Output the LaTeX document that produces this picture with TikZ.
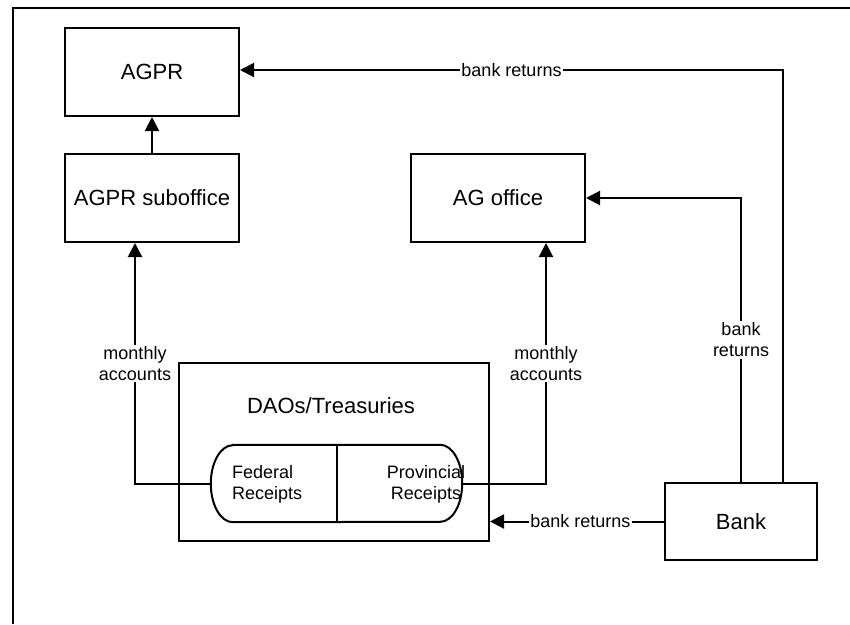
\documentclass[tikz,border=0pt]{standalone}
\usepackage{fontspec}
\setmainfont{Liberation Sans}
\usetikzlibrary{arrows.meta,positioning,calc}
\colorlet{lineCol}{black}
\tikzset{
boxstyle/.style={rectangle, draw=lineCol, line width=2pt, inner sep=0pt, minimum width=174pt, minimum height=88pt, font=\fontsize{22}{26}\selectfont},
textstyle/.style={inner sep=0pt, font=\fontsize{22}{26}\selectfont},
smallstyle/.style={inner sep=0pt, font=\fontsize{18}{21}\selectfont},
labelstyle/.style={fill=white, inner sep=1.5pt, align=center, font=\fontsize{18}{21}\selectfont},
linestyle/.style={draw=lineCol, line width=2pt},
flowstyle/.style={linestyle, -{Triangle[length=14pt,width=14pt]}}
}
\newcommand{\pill}[2]{
  \draw [linestyle, fill=white] ($(#1.north west)+(#2,0)$) -- ($(#1.north east)+(-#2,0)$)
    arc [start angle=-90, end angle=90, x radius=#2, y radius=38.5]
    -- ($(#1.south west)+(#2,0)$)
    arc [start angle=90, end angle=270, x radius=#2, y radius=38.5] -- cycle;
  \draw [linestyle] (#1.north) -- (#1.south);
}

\begin{document}
\begin{tikzpicture}[x=1pt,y=-1pt]

\useasboundingbox (0,0) rectangle (850,624);
\draw [linestyle] (13,624) -- (13,7.5) -- (850,7.5);

\node [boxstyle] (agpr) at (152,72) {AGPR};
\node [boxstyle] (agprsub) at (152,198) {AGPR suboffice};
\node [boxstyle] (agoffice) at (498,198) {AG office};
\node [boxstyle, minimum width=310pt, minimum height=178pt] (daos) at (334,452) {};
\node [textstyle] (daostitle) at (331,406) {DAOs/Treasuries};
\node [boxstyle, minimum width=152pt, minimum height=77pt] (bank) at (741,521.5) {Bank};

\node [inner sep=0pt, minimum width=251pt, minimum height=77pt] (receipts) at (336.5,483.5) {};
\pill{receipts}{22}
\node [smallstyle, align=left, anchor=west] (federal) at (232,484) {Federal\\Receipts};
\node [smallstyle, align=center] (provincial) at (426,484) {Provincial\\Receipts};

\draw [flowstyle] (agprsub) -- (agpr);
\draw [flowstyle] (receipts.west) -| node [labelstyle, pos=0.75] (fedlabel) {monthly\\accounts} ([xshift=-17pt]agprsub.south);
\draw [flowstyle] (receipts.east) -| node [labelstyle, pos=0.75] (provlabel) {monthly\\accounts} ([xshift=48pt]agoffice.south);
\draw [flowstyle] (bank.west) -- node [labelstyle, pos=0.48] (daoslabel) {bank returns} (bank.west -| daos.east);
\draw [flowstyle] (bank.north) |- node [labelstyle, pos=0.25] (aglabel) {bank\\returns} (agoffice.east);
\draw [flowstyle] ([xshift=42pt]bank.north) |- node [labelstyle, pos=0.75] (agprlabel) {bank returns} ([yshift=2pt]agpr.east);

\end{tikzpicture}
\end{document}
